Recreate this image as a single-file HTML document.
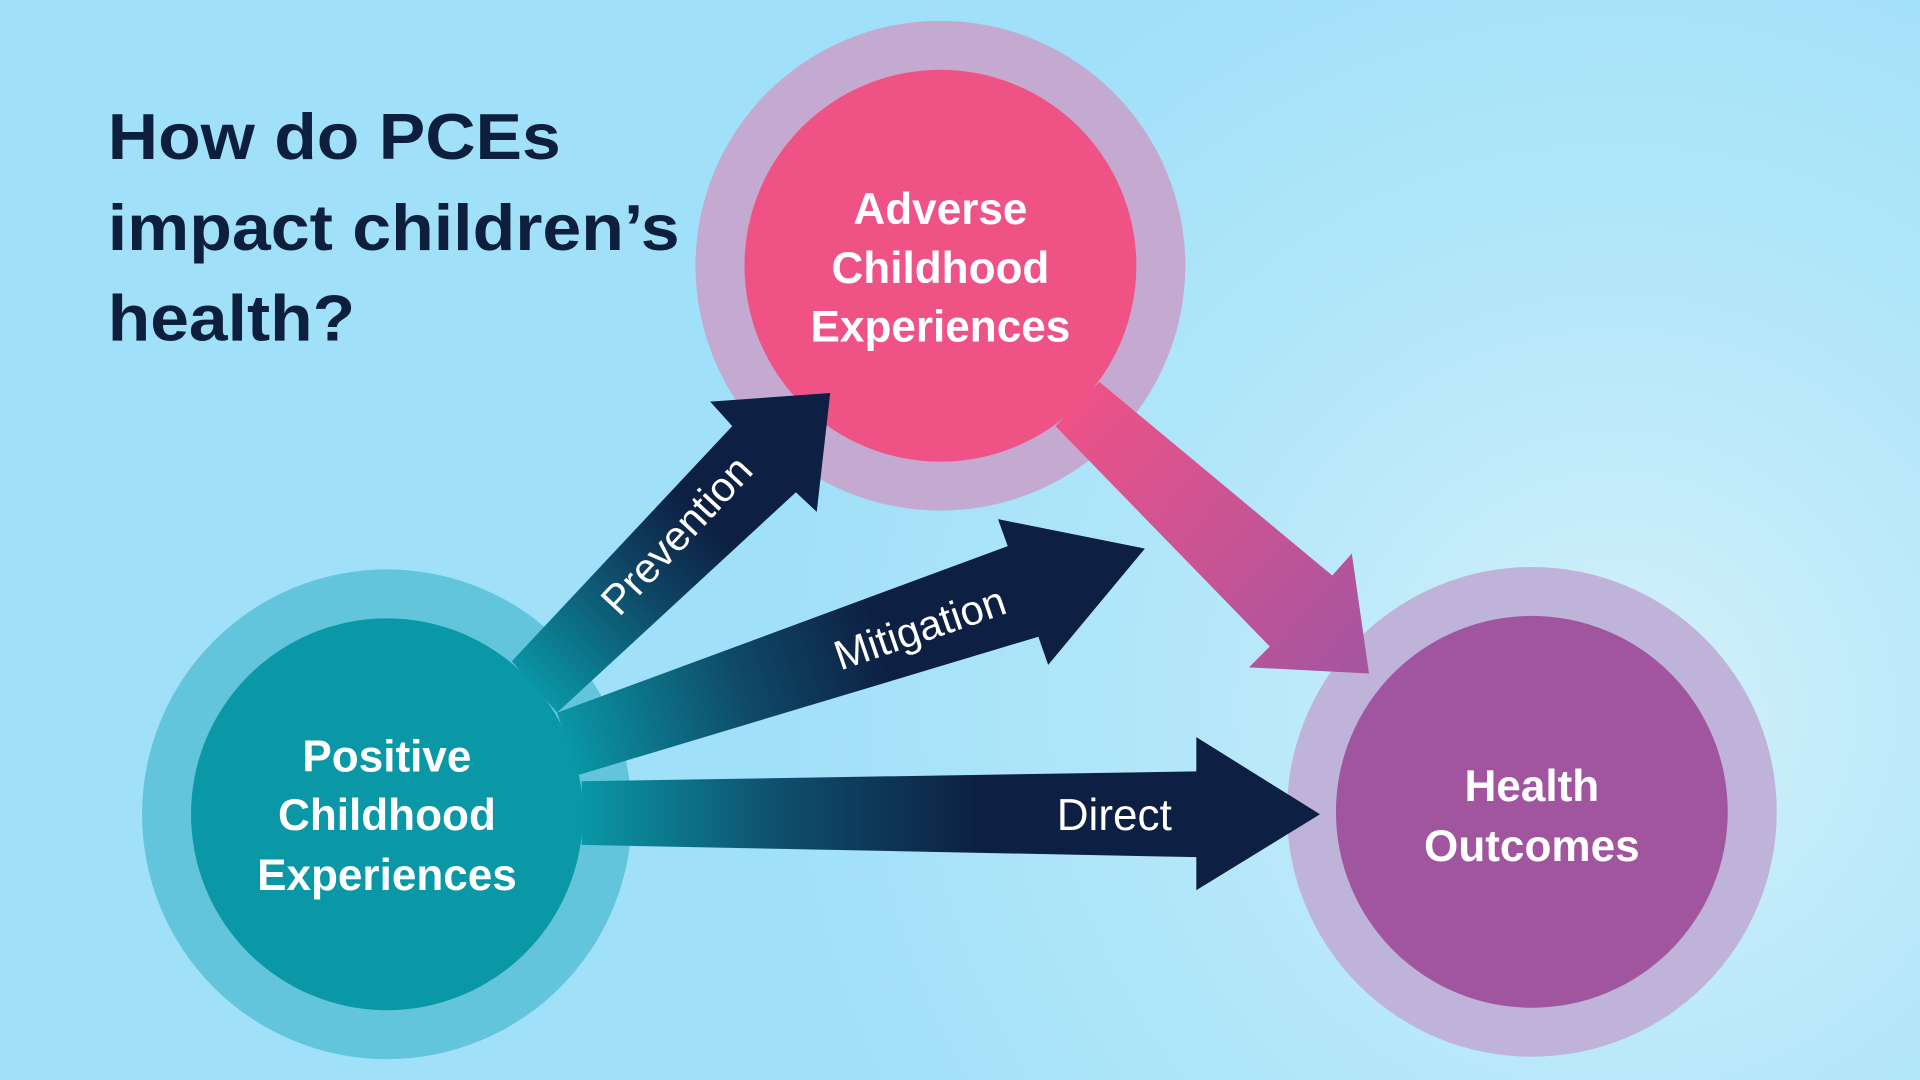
<!DOCTYPE html>
<html><head><meta charset="utf-8"><style>
html,body{margin:0;padding:0;width:1920px;height:1080px;overflow:hidden}
svg{display:block}
text{font-family:"Liberation Sans",Arial,sans-serif}
</style></head><body>
<svg width="1920" height="1080" viewBox="0 0 1568 882" xmlns="http://www.w3.org/2000/svg">
<defs>
<radialGradient id="bg" cx="1320" cy="580" r="700" gradientUnits="userSpaceOnUse">
<stop offset="0" stop-color="#d4f1fb"/><stop offset="0.5" stop-color="#b4e7f9"/><stop offset="1" stop-color="#a0e0f9"/></radialGradient>
<linearGradient id="gp" x1="430" y1="560" x2="620" y2="370" gradientUnits="userSpaceOnUse">
<stop offset="0" stop-color="#0a97a6"/><stop offset="0.5" stop-color="#0f4060"/><stop offset="0.75" stop-color="#0d1f42"/></linearGradient>
<linearGradient id="gm" x1="460" y1="600" x2="720" y2="520" gradientUnits="userSpaceOnUse">
<stop offset="0" stop-color="#0a97a6"/><stop offset="0.55" stop-color="#0f4a68"/><stop offset="1" stop-color="#0d1f42"/></linearGradient>
<linearGradient id="gd" x1="475" y1="665" x2="800" y2="665" gradientUnits="userSpaceOnUse">
<stop offset="0" stop-color="#0a97a6"/><stop offset="0.5" stop-color="#0f4e6c"/><stop offset="1" stop-color="#0d1f42"/></linearGradient>
<linearGradient id="ga" x1="870" y1="330" x2="1100" y2="540" gradientUnits="userSpaceOnUse">
<stop offset="0" stop-color="#ee5287"/><stop offset="1" stop-color="#a8559f"/></linearGradient>
</defs>
<rect width="1568" height="882" fill="url(#bg)"/>
<text x="88" y="130" font-size="53" font-weight="bold" fill="#0d1f3c" textLength="370" lengthAdjust="spacingAndGlyphs">How do PCEs</text>
<text x="88" y="204" font-size="53" font-weight="bold" fill="#0d1f3c" textLength="467" lengthAdjust="spacingAndGlyphs">impact children’s</text>
<text x="88" y="278" font-size="53" font-weight="bold" fill="#0d1f3c" textLength="202" lengthAdjust="spacingAndGlyphs">health?</text>

<circle cx="768" cy="217" r="200" fill="#c4a9d0"/>
<circle cx="768" cy="217" r="160" fill="#ef5285"/>
<circle cx="316" cy="665" r="200" fill="#62c5dc"/>
<circle cx="316" cy="665" r="160" fill="#0a97a6"/>
<circle cx="1251" cy="663" r="200" fill="#c0b3d9"/>
<circle cx="1251" cy="663" r="160" fill="#a2559f"/>

<polygon points="862,348 1037,528 1020,545 1118,550 1104,452 1088,470 898,312" fill="url(#ga)"/>
<polygon points="418,540 598,348 580,328 678,321 667,418 650,402 455,582" fill="url(#gp)"/>
<polygon points="455,582 823,446 815,424 935,448 856,543 848,520 472,633" fill="url(#gm)"/>
<polygon points="475,638 977,630 977,602 1078,665 977,727 977,700 475,690" fill="url(#gd)"/>

<text x="0" y="0" font-size="34" fill="#fff" text-anchor="middle" transform="translate(561,445) rotate(-47)">Prevention</text>
<text x="0" y="0" font-size="34" fill="#fff" text-anchor="middle" transform="translate(755,524) rotate(-19)">Mitigation</text>
<text x="910" y="678" font-size="36" fill="#fff" text-anchor="middle">Direct</text>

<g font-size="36" font-weight="bold" fill="#fff" text-anchor="middle">
<text x="768" y="183">Adverse</text><text x="768" y="231">Childhood</text><text x="768" y="279">Experiences</text>
<text x="316" y="630">Positive</text><text x="316" y="678">Childhood</text><text x="316" y="727">Experiences</text>
<text x="1251" y="654">Health</text><text x="1251" y="703">Outcomes</text>
</g>
</svg>
</body></html>
